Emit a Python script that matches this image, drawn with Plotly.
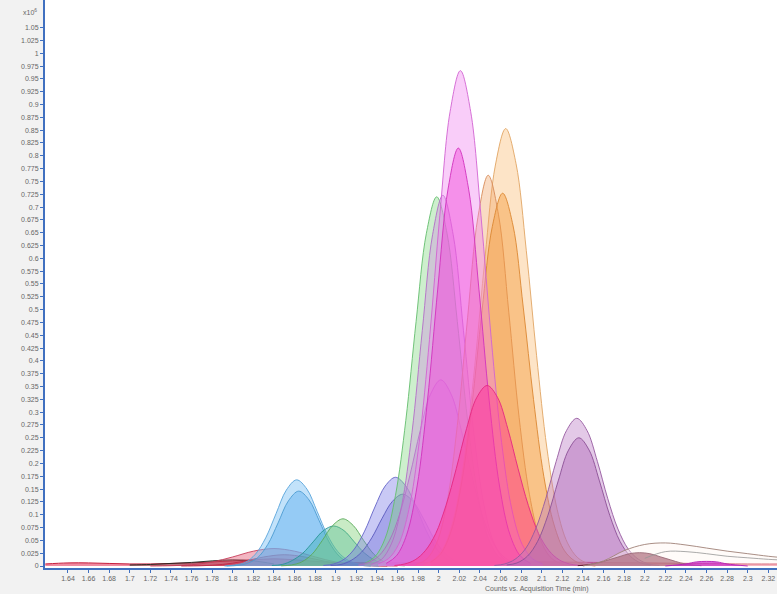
import plotly.graph_objects as go

# ---------------- data (x: acquisition time, min; y: counts x10^6) ----------------
baseline_t = [1.618, 1.64, 1.66, 1.68, 1.70, 1.72, 1.74, 1.76, 1.78, 1.80, 1.82, 1.84, 1.86, 1.88, 1.90, 1.95, 2.0, 2.05, 2.10, 2.15, 2.20, 2.25, 2.30, 2.33]
baseline_y = [0.004, 0.006, 0.006, 0.005, 0.004, 0.004, 0.005, 0.006, 0.008, 0.010, 0.012, 0.014, 0.012, 0.009, 0.007, 0.006, 0.007, 0.008, 0.008, 0.007, 0.006, 0.005, 0.004, 0.004]

dark_t = [1.70, 1.72, 1.74, 1.76, 1.78, 1.80, 1.82, 1.84]
dark_y = [0.002, 0.003, 0.005, 0.007, 0.010, 0.012, 0.010, 0.004]

red_a_t = [1.72, 1.74, 1.76, 1.78, 1.80, 1.82, 1.84, 1.86, 1.88, 1.90, 1.92, 1.94, 1.96]
red_a_y = [0.0, 0.0006, 0.0025, 0.0078, 0.0177, 0.0289, 0.034, 0.0289, 0.0177, 0.0078, 0.0025, 0.0006, 0.0]

red_b_t = [1.75, 1.77, 1.79, 1.81, 1.83, 1.85, 1.87, 1.89, 1.91, 1.93, 1.95]
red_b_y = [0.0, 0.0006, 0.003, 0.009, 0.0176, 0.022, 0.0176, 0.009, 0.003, 0.0006, 0.0]

blue_a_t = [1.792, 1.802, 1.812, 1.822, 1.832, 1.842, 1.852, 1.862, 1.872, 1.882, 1.892, 1.902, 1.912, 1.922, 1.932, 1.942]
blue_a_y = [0.0, 0.002, 0.007, 0.023, 0.055, 0.102, 0.148, 0.168, 0.150, 0.106, 0.060, 0.028, 0.011, 0.004, 0.001, 0.0]

blue_b_t = [1.794, 1.804, 1.814, 1.824, 1.834, 1.844, 1.854, 1.864, 1.874, 1.884, 1.894, 1.904, 1.914, 1.924, 1.934]
blue_b_y = [0.0, 0.001, 0.005, 0.016, 0.042, 0.084, 0.127, 0.146, 0.129, 0.088, 0.045, 0.018, 0.006, 0.0015, 0.0]

teal_t = [1.838, 1.848, 1.858, 1.868, 1.878, 1.888, 1.898, 1.908, 1.918, 1.928, 1.938, 1.948, 1.958]
teal_y = [0.001, 0.003, 0.011, 0.025, 0.047, 0.069, 0.078, 0.069, 0.047, 0.025, 0.011, 0.003, 0.001]

green_s_t = [1.847, 1.857, 1.867, 1.877, 1.887, 1.897, 1.907, 1.917, 1.927, 1.937, 1.947, 1.957, 1.967]
green_s_y = [0.0004, 0.002, 0.008, 0.023, 0.050, 0.079, 0.092, 0.079, 0.050, 0.023, 0.008, 0.002, 0.0004]

slate_a_t = [1.888, 1.898, 1.908, 1.918, 1.928, 1.938, 1.948, 1.958, 1.968, 1.978, 1.988, 1.998, 2.008, 2.018, 2.028]
slate_a_y = [0.001, 0.004, 0.013, 0.033, 0.068, 0.115, 0.156, 0.173, 0.156, 0.115, 0.068, 0.033, 0.013, 0.004, 0.001]

slate_b_t = [1.895, 1.905, 1.915, 1.925, 1.935, 1.945, 1.955, 1.965, 1.975, 1.985, 1.995, 2.005, 2.015, 2.025, 2.035]
slate_b_y = [0.001, 0.003, 0.011, 0.027, 0.055, 0.093, 0.126, 0.140, 0.126, 0.093, 0.055, 0.027, 0.011, 0.003, 0.001]

green_t_t = [1.928, 1.938, 1.948, 1.958, 1.968, 1.978, 1.988, 1.998, 2.008, 2.018, 2.028, 2.038, 2.048, 2.058, 2.068]
green_t_y = [0.005, 0.018, 0.054, 0.138, 0.284, 0.477, 0.649, 0.720, 0.649, 0.477, 0.284, 0.138, 0.054, 0.018, 0.005]

mauve_l_t = [1.922, 1.932, 1.942, 1.952, 1.962, 1.972, 1.982, 1.992, 2.002, 2.012, 2.022, 2.032, 2.042, 2.052, 2.062, 2.072, 2.082]
mauve_l_y = [0.002, 0.007, 0.020, 0.049, 0.101, 0.177, 0.264, 0.335, 0.363, 0.335, 0.264, 0.177, 0.101, 0.049, 0.020, 0.007, 0.002]

mauve_t_t = [1.934, 1.944, 1.954, 1.964, 1.974, 1.984, 1.994, 2.004, 2.014, 2.024, 2.034, 2.044, 2.054, 2.064, 2.074]
mauve_t_y = [0.003, 0.012, 0.043, 0.118, 0.260, 0.459, 0.646, 0.723, 0.646, 0.459, 0.260, 0.118, 0.043, 0.012, 0.003]

peach_t = [1.985, 1.995, 2.005, 2.015, 2.025, 2.035, 2.045, 2.055, 2.065, 2.075, 2.085, 2.095, 2.105, 2.115, 2.125, 2.135, 2.145, 2.155]
peach_y = [0.003, 0.012, 0.037, 0.097, 0.212, 0.391, 0.603, 0.782, 0.853, 0.785, 0.615, 0.410, 0.230, 0.110, 0.045, 0.016, 0.005, 0.001]

tan_t = [1.978, 1.988, 1.998, 2.008, 2.018, 2.028, 2.038, 2.048, 2.058, 2.068, 2.078, 2.088, 2.098, 2.108, 2.118, 2.128]
tan_y = [0.003, 0.013, 0.045, 0.124, 0.274, 0.484, 0.680, 0.762, 0.685, 0.495, 0.290, 0.140, 0.055, 0.018, 0.005, 0.001]

orange_t = [1.992, 2.002, 2.012, 2.022, 2.032, 2.042, 2.052, 2.062, 2.072, 2.082, 2.092, 2.102, 2.112, 2.122, 2.132, 2.142, 2.152]
orange_y = [0.007, 0.024, 0.068, 0.160, 0.310, 0.498, 0.662, 0.727, 0.665, 0.505, 0.325, 0.175, 0.080, 0.030, 0.010, 0.003, 0.0]

orchid_t = [1.941, 1.951, 1.961, 1.971, 1.981, 1.991, 2.001, 2.011, 2.021, 2.031, 2.041, 2.051, 2.061, 2.071, 2.081, 2.091, 2.101]
orchid_y = [0.004, 0.014, 0.042, 0.110, 0.241, 0.442, 0.683, 0.886, 0.966, 0.886, 0.683, 0.442, 0.241, 0.110, 0.042, 0.014, 0.004]

magenta_t = [1.949, 1.959, 1.969, 1.979, 1.989, 1.999, 2.009, 2.019, 2.029, 2.039, 2.049, 2.059, 2.069, 2.079, 2.089]
magenta_y = [0.005, 0.020, 0.062, 0.156, 0.322, 0.540, 0.735, 0.815, 0.735, 0.540, 0.322, 0.156, 0.062, 0.020, 0.005]

hotpink_t = [1.957, 1.967, 1.977, 1.987, 1.997, 2.007, 2.017, 2.027, 2.037, 2.047, 2.057, 2.067, 2.077, 2.087, 2.097, 2.107, 2.117, 2.127, 2.137]
hotpink_y = [0.001, 0.004, 0.012, 0.030, 0.063, 0.118, 0.190, 0.268, 0.329, 0.352, 0.329, 0.268, 0.190, 0.118, 0.063, 0.030, 0.012, 0.004, 0.001]

purple_a_t = [2.054, 2.064, 2.074, 2.084, 2.094, 2.104, 2.114, 2.124, 2.134, 2.144, 2.154, 2.164, 2.174, 2.184, 2.194, 2.204, 2.214]
purple_a_y = [0.001, 0.004, 0.013, 0.033, 0.072, 0.132, 0.204, 0.264, 0.288, 0.264, 0.204, 0.132, 0.072, 0.033, 0.013, 0.004, 0.001]

purple_b_t = [2.066, 2.076, 2.086, 2.096, 2.106, 2.116, 2.126, 2.136, 2.146, 2.156, 2.166, 2.176, 2.186, 2.196, 2.206]
purple_b_y = [0.002, 0.006, 0.019, 0.048, 0.099, 0.166, 0.226, 0.250, 0.226, 0.166, 0.099, 0.048, 0.019, 0.006, 0.002]

maroon_t = [2.135, 2.145, 2.155, 2.165, 2.175, 2.185, 2.195, 2.205, 2.215, 2.225, 2.235, 2.245, 2.255]
maroon_y = [0.0007, 0.0023, 0.006, 0.012, 0.018, 0.024, 0.026, 0.024, 0.018, 0.012, 0.006, 0.0023, 0.0007]

brown_t = [2.14, 2.16, 2.18, 2.20, 2.22, 2.24, 2.26, 2.28, 2.30, 2.32, 2.33]
brown_y = [0.0, 0.010, 0.030, 0.042, 0.045, 0.041, 0.035, 0.029, 0.024, 0.019, 0.017]

gray_t = [2.20, 2.22, 2.24, 2.26, 2.28, 2.30, 2.32, 2.33]
gray_y = [0.015, 0.028, 0.028, 0.024, 0.019, 0.016, 0.013, 0.012]

mag_low_t = [2.22, 2.24, 2.25, 2.26, 2.27, 2.28, 2.30]
mag_low_y = [0.0, 0.004, 0.008, 0.009, 0.008, 0.004, 0.0]

x_tick_labels = ["1.64", "1.66", "1.68", "1.7", "1.72", "1.74", "1.76", "1.78", "1.8", "1.82", "1.84",
                 "1.86", "1.88", "1.9", "1.92", "1.94", "1.96", "1.98", "2", "2.02", "2.04", "2.06",
                 "2.08", "2.1", "2.12", "2.14", "2.16", "2.18", "2.2", "2.22", "2.24", "2.26", "2.28",
                 "2.3", "2.32"]
y_tick_labels = ["0", "0.025", "0.05", "0.075", "0.1", "0.125", "0.15", "0.175", "0.2", "0.225", "0.25",
                 "0.275", "0.3", "0.325", "0.35", "0.375", "0.4", "0.425", "0.45", "0.475", "0.5",
                 "0.525", "0.55", "0.575", "0.6", "0.625", "0.65", "0.675", "0.7", "0.725", "0.75",
                 "0.775", "0.8", "0.825", "0.85", "0.875", "0.9", "0.925", "0.95", "0.975", "1",
                 "1.025", "1.05"]

# ---------------- traces: (x, y, fill colour, line colour) ----------------
series = [
    (baseline_t, baseline_y, "rgba(225,40,80,0.55)", "rgba(200,30,60,1)"),
    (dark_t, dark_y, "rgba(40,60,40,0.25)", "rgba(30,40,30,0.9)"),
    (red_a_t, red_a_y, "rgba(225,70,100,0.40)", "rgba(200,60,90,0.9)"),
    (red_b_t, red_b_y, "rgba(210,40,70,0.40)", "rgba(190,40,70,0.9)"),
    (blue_a_t, blue_a_y, "rgba(120,190,245,0.45)", "rgba(90,165,220,0.9)"),
    (blue_b_t, blue_b_y, "rgba(95,175,240,0.45)", "rgba(75,155,210,0.9)"),
    (teal_t, teal_y, "rgba(40,170,170,0.35)", "rgba(40,150,150,0.9)"),
    (green_s_t, green_s_y, "rgba(120,205,110,0.40)", "rgba(90,170,90,0.9)"),
    (slate_a_t, slate_a_y, "rgba(120,120,230,0.40)", "rgba(100,100,200,0.9)"),
    (slate_b_t, slate_b_y, "rgba(100,100,215,0.35)", "rgba(90,90,190,0.9)"),
    (green_t_t, green_t_y, "rgba(130,215,130,0.40)", "rgba(100,190,110,0.9)"),
    (mauve_l_t, mauve_l_y, "rgba(195,130,215,0.35)", "rgba(170,110,190,0.9)"),
    (mauve_t_t, mauve_t_y, "rgba(205,130,225,0.35)", "rgba(180,110,200,0.9)"),
    (peach_t, peach_y, "rgba(250,195,130,0.45)", "rgba(225,165,100,0.9)"),
    (tan_t, tan_y, "rgba(240,165,105,0.40)", "rgba(215,140,90,0.9)"),
    (orange_t, orange_y, "rgba(245,155,60,0.45)", "rgba(220,135,50,0.9)"),
    (orchid_t, orchid_y, "rgba(240,130,240,0.40)", "rgba(210,100,210,0.9)"),
    (magenta_t, magenta_y, "rgba(240,70,215,0.45)", "rgba(210,50,190,0.9)"),
    (hotpink_t, hotpink_y, "rgba(255,60,150,0.50)", "rgba(230,40,130,0.9)"),
    (purple_a_t, purple_a_y, "rgba(185,120,195,0.40)", "rgba(150,90,160,0.9)"),
    (purple_b_t, purple_b_y, "rgba(175,105,185,0.45)", "rgba(140,80,150,0.9)"),
    (maroon_t, maroon_y, "rgba(120,20,50,0.70)", "rgba(90,15,40,0.9)"),
    (brown_t, brown_y, "rgba(255,245,240,0.40)", "rgba(160,130,120,0.9)"),
    (gray_t, gray_y, "rgba(255,255,255,0.0)", "rgba(150,150,150,0.8)"),
    (mag_low_t, mag_low_y, "rgba(200,40,200,0.70)", "rgba(180,30,180,0.9)"),
]

fig = go.Figure()
for xs, ys, fc, lc in series:
    fig.add_trace(go.Scatter(
        x=xs, y=ys, mode="lines", fill="tozeroy", fillcolor=fc,
        line=dict(color=lc, width=1, shape="spline", smoothing=1.0),
        hoverinfo="skip", showlegend=False,
    ))

FONT = "Liberation Sans, Arial, sans-serif"
tick_font = dict(family=FONT, size=7, color="#666666")

fig.update_layout(
    width=777, height=594,
    margin=dict(l=45, r=0, t=0, b=26),
    paper_bgcolor="#f2f2f2",
    plot_bgcolor="#ffffff",
    showlegend=False,
    xaxis=dict(
        range=[1.6177, 2.3284],
        tickvals=[float(s) for s in x_tick_labels], ticktext=x_tick_labels,
        ticks="outside", ticklen=3, tickcolor="#4070c0", tickwidth=1,
        tickfont=tick_font, showgrid=False, zeroline=False,
        showline=True, linecolor="#4070c0", linewidth=2,
    ),
    yaxis=dict(
        range=[-0.0039, 1.1038],
        tickvals=[float(s) for s in y_tick_labels], ticktext=y_tick_labels,
        ticks="outside", ticklen=3, tickcolor="#4070c0", tickwidth=1,
        tickfont=tick_font, showgrid=False, zeroline=False,
        showline=True, linecolor="#4070c0", linewidth=2,
    ),
    annotations=[
        dict(text="x10<sup>6</sup>", x=0.0, y=0.979, xref="paper", yref="paper",
             xanchor="right", yanchor="middle", xshift=-6, showarrow=False,
             font=dict(family=FONT, size=7, color="#666666")),
        dict(text="Counts vs. Acquisition Time (min)", x=2.095, y=0, xref="x", yref="paper",
             xanchor="center", yanchor="top", yshift=-15, showarrow=False,
             font=dict(family=FONT, size=7, color="#666666")),
    ],
)

fig.write_html("out.html", config={"displayModeBar": False},
               post_script="document.body.style.margin='0';")
